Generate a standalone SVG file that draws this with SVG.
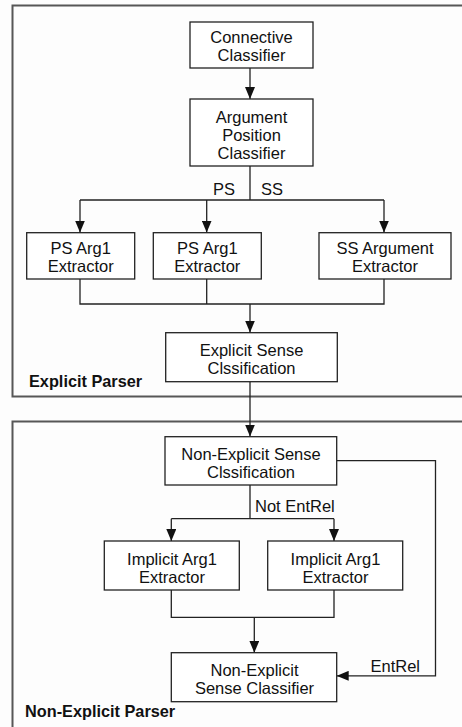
<svg xmlns="http://www.w3.org/2000/svg" width="462" height="727" viewBox="0 0 462 727">
<style>
.frame{fill:none;stroke:#575757;stroke-width:2}
.box{fill:#fff;stroke:#222;stroke-width:1.3}
.t{font-family:"Liberation Sans",Arial,sans-serif;font-size:16.5px;fill:#111;text-anchor:middle}
.lbl{font-family:"Liberation Sans",Arial,sans-serif;font-size:16.5px;fill:#111}
.b{font-family:"Liberation Sans",Arial,sans-serif;font-size:16.3px;font-weight:bold;fill:#111}
.c{fill:none;stroke:#222;stroke-width:1.3}
</style>
<defs>
<marker id="ah" viewBox="0 0 12 10" refX="12" refY="5" markerWidth="12" markerHeight="10" markerUnits="userSpaceOnUse" orient="auto">
<path d="M0,0 L12,5 L0,10 Z" fill="#111"/>
</marker>
</defs>
<rect width="462" height="727" fill="#fdfdfd"/>
<g id="explicit-parser">
<rect class="frame" x="12.5" y="5.5" width="460" height="391"/>
<text class="b" x="29" y="387">Explicit Parser</text>
</g>
<g id="non-explicit-parser">
<rect class="frame" x="12.5" y="421.5" width="460" height="320"/>
<text class="b" x="25" y="717">Non-Explicit Parser</text>
</g>
<g id="connectors">
<path class="c" d="M250,68 V99" marker-end="url(#ah)"/>
<path class="c" d="M250,166 V200 M80,200 H384"/>
<path class="c" d="M80,200 V232.5" marker-end="url(#ah)"/>
<path class="c" d="M206.7,200 V232.5" marker-end="url(#ah)"/>
<path class="c" d="M384,200 V232.5" marker-end="url(#ah)"/>
<path class="c" d="M80,279 V304 H384 V279 M206.7,279 V304"/>
<path class="c" d="M250,304 V332.5" marker-end="url(#ah)"/>
<path class="c" d="M250,381.5 V436.5" marker-end="url(#ah)"/>
<path class="c" d="M250,485 V518.7 M171.3,518.7 H334"/>
<path class="c" d="M171.3,518.7 V541" marker-end="url(#ah)"/>
<path class="c" d="M334,518.7 V541" marker-end="url(#ah)"/>
<path class="c" d="M171.3,590 V617.3 H334 V590"/>
<path class="c" d="M254.3,617.3 V652.7" marker-end="url(#ah)"/>
<path class="c" d="M336.7,460.7 H435.5 V675.8 H336.7" marker-end="url(#ah)"/>
<text class="lbl" x="213" y="195">PS</text>
<text class="lbl" x="261" y="195">SS</text>
<text class="lbl" x="255" y="512">Not EntRel</text>
<text class="lbl" x="370.5" y="672">EntRel</text>
</g>
<g id="connective-classifier">
<rect class="box" x="190" y="22" width="123" height="46"/>
<text class="t" x="251.5" y="42.5">Connective</text>
<text class="t" x="251.5" y="60.5">Classifier</text>
</g>
<g id="argument-position-classifier">
<rect class="box" x="190" y="99" width="123" height="67"/>
<text class="t" x="251.5" y="122.5">Argument</text>
<text class="t" x="251.5" y="140.5">Position</text>
<text class="t" x="251.5" y="158.5">Classifier</text>
</g>
<g id="ps-arg1-extractor-1">
<rect class="box" x="26.7" y="232.7" width="108" height="46.3"/>
<text class="t" x="80.7" y="253.5">PS Arg1</text>
<text class="t" x="80.7" y="271.5">Extractor</text>
</g>
<g id="ps-arg1-extractor-2">
<rect class="box" x="153.3" y="232.7" width="108" height="46.3"/>
<text class="t" x="207.3" y="253.5">PS Arg1</text>
<text class="t" x="207.3" y="271.5">Extractor</text>
</g>
<g id="ss-argument-extractor">
<rect class="box" x="319" y="232.7" width="132" height="46.3"/>
<text class="t" x="385" y="253.5">SS Argument</text>
<text class="t" x="385" y="271.5">Extractor</text>
</g>
<g id="explicit-sense-classification">
<rect class="box" x="165.7" y="332.7" width="171.6" height="49"/>
<text class="t" x="251.5" y="355.5">Explicit Sense</text>
<text class="t" x="251.5" y="373.5">Clssification</text>
</g>
<g id="non-explicit-sense-classification">
<rect class="box" x="165" y="436.7" width="171.7" height="48.3"/>
<text class="t" x="251" y="459.5">Non-Explicit Sense</text>
<text class="t" x="251" y="477.5">Clssification</text>
</g>
<g id="implicit-arg1-extractor-1">
<rect class="box" x="104.3" y="541" width="135" height="49"/>
<text class="t" x="172" y="564.5">Implicit Arg1</text>
<text class="t" x="172" y="582.5">Extractor</text>
</g>
<g id="implicit-arg1-extractor-2">
<rect class="box" x="267.7" y="541" width="135" height="49"/>
<text class="t" x="335.5" y="564.5">Implicit Arg1</text>
<text class="t" x="335.5" y="582.5">Extractor</text>
</g>
<g id="non-explicit-sense-classifier">
<rect class="box" x="171.3" y="652.7" width="165.4" height="49"/>
<text class="t" x="254.5" y="675.5">Non-Explicit</text>
<text class="t" x="254.5" y="693.5">Sense Classifier</text>
</g>
</svg>
